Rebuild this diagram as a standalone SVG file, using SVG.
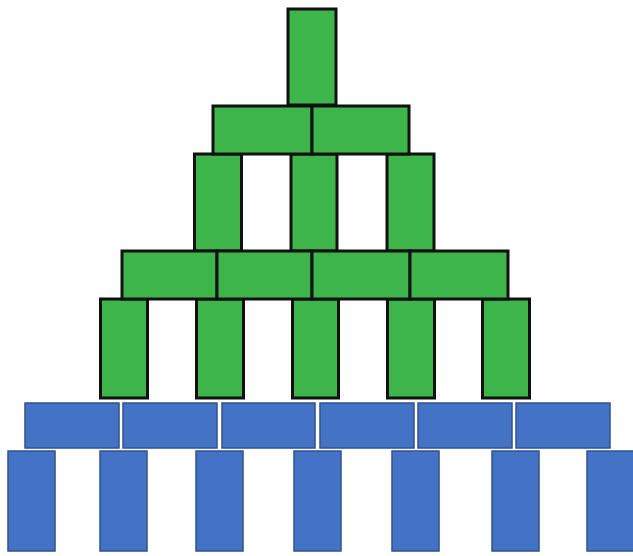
<svg xmlns="http://www.w3.org/2000/svg" width="633" height="556" viewBox="0 0 633 556">
<style>
.g{fill:#3DB54A;stroke:#111;stroke-width:3}
.b{fill:#4472C4;stroke:#2F528F;stroke-width:1.5}
</style>
<rect width="633" height="556" fill="#fff"/>
<g id="blue-row7">
<rect class="b" x="8" y="451" width="47" height="100"/>
<rect class="b" x="100" y="451" width="47" height="100"/>
<rect class="b" x="196" y="451" width="47" height="100"/>
<rect class="b" x="294" y="451" width="47" height="100"/>
<rect class="b" x="392" y="451" width="47" height="100"/>
<rect class="b" x="492" y="451" width="47" height="100"/>
<rect class="b" x="587" y="451" width="47" height="100"/>
</g>
<g id="blue-row6">
<rect class="b" x="25" y="403" width="94" height="45"/>
<rect class="b" x="123" y="403" width="94" height="45"/>
<rect class="b" x="222" y="403" width="93" height="45"/>
<rect class="b" x="320" y="403" width="94" height="45"/>
<rect class="b" x="418" y="403" width="94" height="45"/>
<rect class="b" x="516" y="403" width="94" height="45"/>
</g>
<g id="green-row5">
<rect class="g" x="100.5" y="299" width="47" height="99"/>
<rect class="g" x="196.5" y="299" width="47" height="99"/>
<rect class="g" x="292.5" y="299" width="46" height="99"/>
<rect class="g" x="387.5" y="299" width="47" height="99"/>
<rect class="g" x="482.5" y="299" width="47" height="99"/>
</g>
<g id="green-row3">
<rect class="g" x="194.5" y="154" width="47" height="97"/>
<rect class="g" x="291" y="154" width="46" height="97"/>
<rect class="g" x="387" y="154" width="47" height="97"/>
</g>
<g id="green-row4">
<rect class="g" x="122" y="251" width="95" height="48"/>
<rect class="g" x="217" y="251" width="95" height="48"/>
<rect class="g" x="312" y="251" width="98" height="48"/>
<rect class="g" x="410" y="251" width="98" height="48"/>
</g>
<g id="green-row2">
<rect class="g" x="213" y="106" width="99" height="48"/>
<rect class="g" x="312" y="106" width="97" height="48"/>
</g>
<g id="green-top">
<rect class="g" x="288" y="9" width="48" height="96"/>
</g>
<g id="connectors"/>
</svg>
